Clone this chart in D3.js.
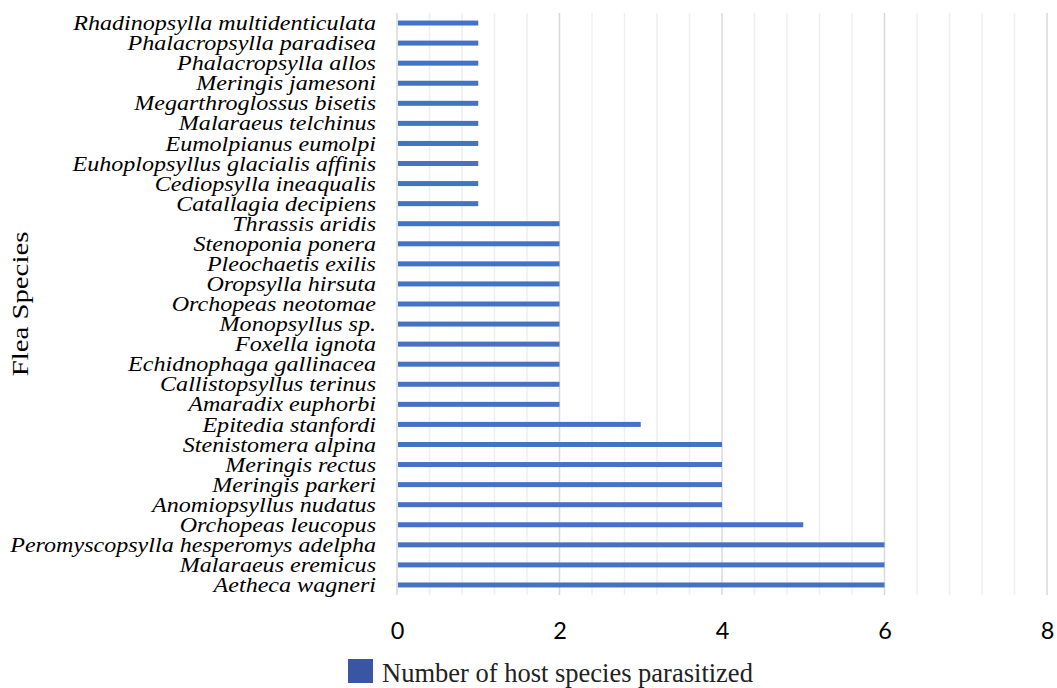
<!DOCTYPE html>
<html><head><meta charset="utf-8">
<script src="https://cdn.jsdelivr.net/npm/d3@7"></script>
<style>body{margin:0;background:#fff}svg{display:block}</style>
</head><body>
<svg id="c" width="1057" height="688"></svg>
<script>
const species = ["Rhadinopsylla multidenticulata","Phalacropsylla paradisea","Phalacropsylla allos","Meringis jamesoni","Megarthroglossus bisetis","Malaraeus telchinus","Eumolpianus eumolpi","Euhoplopsyllus glacialis affinis","Cediopsylla ineaqualis","Catallagia decipiens","Thrassis aridis","Stenoponia ponera","Pleochaetis exilis","Oropsylla hirsuta","Orchopeas neotomae","Monopsyllus sp.","Foxella ignota","Echidnophaga gallinacea","Callistopsyllus terinus","Amaradix euphorbi","Epitedia stanfordi","Stenistomera alpina","Meringis rectus","Meringis parkeri","Anomiopsyllus nudatus","Orchopeas leucopus","Peromyscopsylla hesperomys adelpha","Malaraeus eremicus","Aetheca wagneri"];
const hostCounts = [1,1,1,1,1,1,1,1,1,1,2,2,2,2,2,2,2,2,2,2,3,4,4,4,4,5,6,6,6];
const xTicks = [0,2,4,6,8];
const minorTicks = d3.range(0, 8.0001, 0.4);
const seriesName = "Number of host species parasitized";
const axisTitle = "Flea Species";

const svg = d3.select("#c");
const m = {left:397, right:1047, top:13, bottom:595};
const x = d3.scaleLinear().domain([0,8]).range([m.left, m.right]);
const y = d3.scaleBand().domain(species).range([m.top, m.bottom]);

// minor gridlines
svg.append("g").selectAll("line").data(minorTicks.filter(t => Math.abs(t/2 - Math.round(t/2)) > 1e-6))
  .join("line").attr("x1", d=>x(d)).attr("x2", d=>x(d)).attr("y1", m.top).attr("y2", m.bottom)
  .attr("stroke", "#efefef").attr("stroke-width", 1.5);
// major gridlines
svg.append("g").selectAll("line").data(xTicks)
  .join("line").attr("x1", d=>x(d)).attr("x2", d=>x(d)).attr("y1", m.top).attr("y2", m.bottom)
  .attr("stroke", "#d9d9d9").attr("stroke-width", 1.5);

// bars
const bh = 5;
svg.append("g").selectAll("rect").data(species)
  .join("rect").attr("x", x(0)+1).attr("y", (d)=> y(d)+y.bandwidth()/2 - bh/2)
  .attr("width", (d,i)=> x(hostCounts[i]) - x(0) - 1).attr("height", bh).attr("fill", "#4472C4");

// y axis labels
const sx = 1.12;
const yAxis = d3.axisLeft(y).tickSize(0).tickPadding(0);
const gy = svg.append("g").attr("transform", `translate(${m.left},0)`).call(yAxis);
gy.select(".domain").remove();
gy.selectAll("text").attr("font-family", "'Liberation Serif', serif").attr("font-style", "italic")
  .attr("font-size", 21.5).attr("fill", "#000").attr("x", -21/sx).attr("dy", "0.33em")
  .attr("transform", `scale(${sx},1)`);

// x axis
const xAxis = d3.axisBottom(x).tickValues(xTicks).tickSize(0).tickPadding(27).tickFormat(d3.format("d"));
const gx = svg.append("g").attr("transform", `translate(0,${m.bottom})`).call(xAxis);
gx.select(".domain").remove();
gx.selectAll("text").attr("font-family", "Lato, sans-serif").attr("font-size", 23.5).attr("fill", "#000");

// axis title
svg.append("text").attr("transform", `translate(28,${(m.top+m.bottom)/2}) rotate(-90) scale(1.2,1)`)
  .attr("text-anchor", "middle").attr("font-family", "'Liberation Serif', serif").attr("font-size", 24)
  .attr("fill", "#000").text(axisTitle);

// legend
svg.append("rect").attr("x", 348).attr("y", 659).attr("width", 25).attr("height", 24).attr("fill", "#3B55A5");
svg.append("text").attr("x", 382).attr("y", 682).attr("font-family", "'Liberation Serif', serif")
  .attr("font-size", 26.5).attr("fill", "#222").text(seriesName);
</script>
</body></html>
